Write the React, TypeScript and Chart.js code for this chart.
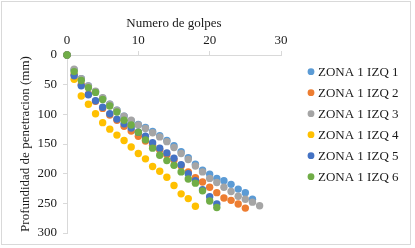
import React, { useEffect, useRef } from "react";
import { Chart, registerables } from "chart.js";

Chart.register(...registerables);

const seriesNames = ["ZONA 1 IZQ 1", "ZONA 1 IZQ 2", "ZONA 1 IZQ 3", "ZONA 1 IZQ 4", "ZONA 1 IZQ 5", "ZONA 1 IZQ 6"];
const seriesColors = ["#5B9BD5", "#ED7D31", "#A5A5A5", "#FFC000", "#4472C4", "#70AD47"];

const golpes = [0, 1, 2, 3, 4, 5, 6, 7, 8, 9, 10, 11, 12, 13, 14, 15, 16, 17, 18, 19, 20, 21, 22, 23, 24, 25, 26, 27];

const zona1 = [0, 25, 40, 52, 62, 73, 83, 93, 103, 111, 117, 122, 129, 136, 144, 153, 163, 173, 184, 194, 201, 208, 212, 218, 226, 232, 243];
const zona2 = [0, 33, 50, 66, 78, 90, 101, 110, 120, 128, 137, 145, 152, 160, 168, 177, 187, 197, 207, 214, 223, 232, 241, 245, 251, 258];
const zona3 = [0, 24, 40, 52, 61, 72, 83, 93, 103, 110, 118, 124, 131, 138, 146, 156, 166, 176, 187, 197, 208, 215, 223, 230, 238, 243, 248, 254];
const zona4 = [0, 41, 69, 83, 99, 114, 125, 135, 144, 155, 166, 175, 188, 196, 206, 220, 234, 242, 255];
const zona5 = [0, 35, 52, 67, 77, 88, 99, 108, 116, 123, 130, 137, 148, 157, 165, 174, 185, 200, 212, 227, 239, 251];
const zona6 = [0, 28, 43, 55, 63, 75, 86, 96, 110, 118, 130, 143, 157, 169, 178, 186, 197, 209, 216, 229, 246, 257];

const allSeries = [zona1, zona2, zona3, zona4, zona5, zona6];

const xTicks = [0, 10, 20, 30];
const yTicks = [0, 50, 100, 150, 200, 250, 300];

const FONT = "'Liberation Serif', 'Times New Roman', serif";
const AXIS_COLOR = "#d9d9d9";
const TEXT_COLOR = "#1a1a1a";

const borderPlugin = {
  id: "outerBorder",
  afterDraw(chart: any) {
    const ctx = chart.ctx;
    ctx.save();
    ctx.strokeStyle = AXIS_COLOR;
    ctx.lineWidth = 1;
    ctx.strokeRect(1.5, 1.5, 409, 243);
    ctx.restore();
  },
};

const legendPlugin = {
  id: "sideLegend",
  afterDraw(chart: any) {
    const ctx = chart.ctx;
    const area = chart.chartArea;
    const markerX = area.right + 30;
    const textX = markerX + 7;
    const firstY = 71.7;
    const step = 21;
    ctx.save();
    ctx.font = `13px ${FONT}`;
    ctx.textBaseline = "middle";
    ctx.textAlign = "left";
    chart.data.datasets.forEach((ds: any, i: number) => {
      const y = firstY + step * i;
      ctx.fillStyle = ds.backgroundColor;
      ctx.beginPath();
      ctx.arc(markerX, y, 3.4, 0, Math.PI * 2);
      ctx.fill();
      ctx.fillStyle = TEXT_COLOR;
      ctx.fillText(ds.label, textX, y + 0.5);
    });
    ctx.restore();
  },
};

export default function App() {
  const ref = useRef<HTMLCanvasElement | null>(null);

  useEffect(() => {
    if (!ref.current) return;
    const datasets = allSeries.map((vals, s) => ({
      label: seriesNames[s],
      data: vals.map((v, i) => ({ x: golpes[i], y: v })),
      backgroundColor: seriesColors[s],
      borderColor: seriesColors[s],
      borderWidth: 0,
      pointRadius: 3.7,
      pointHoverRadius: 3.7,
      pointStyle: "circle",
      showLine: false,
      clip: false,
      order: allSeries.length - s,
    }));

    const chart = new Chart(ref.current, {
      type: "scatter",
      data: { datasets },
      plugins: [borderPlugin, legendPlugin],
      options: {
        animation: false,
        responsive: true,
        maintainAspectRatio: false,
        layout: { padding: { left: 0, top: 0, right: 134, bottom: 15 } },
        plugins: {
          tooltip: { enabled: false },
          legend: { display: false },
        },
        scales: {
          x: {
            type: "linear",
            position: "top",
            min: 0,
            max: 30,
            afterBuildTicks: (s: any) => {
              s.ticks = xTicks.map((v) => ({ value: v }));
            },
            afterFit: (s: any) => {
              s.height = 55;
            },
            ticks: { color: TEXT_COLOR, font: { family: FONT, size: 13 }, padding: 3 },
            grid: { display: true, drawOnChartArea: false, drawTicks: true, tickLength: 4, color: AXIS_COLOR },
            border: { display: true, color: AXIS_COLOR },
            title: {
              display: true,
              text: "Numero de golpes",
              color: TEXT_COLOR,
              font: { family: FONT, size: 13 },
              padding: { top: 16, bottom: 0 },
            },
          },
          y: {
            type: "linear",
            position: "left",
            reverse: true,
            min: 0,
            max: 300,
            afterBuildTicks: (s: any) => {
              s.ticks = yTicks.map((v) => ({ value: v }));
            },
            afterFit: (s: any) => {
              s.width = 67;
            },
            ticks: { color: TEXT_COLOR, font: { family: FONT, size: 13 }, padding: 6 },
            grid: { display: true, drawOnChartArea: false, drawTicks: true, tickLength: 4, color: AXIS_COLOR },
            border: { display: true, color: AXIS_COLOR },
            title: {
              display: true,
              text: "Profundidad de penetracion (mm)",
              color: TEXT_COLOR,
              font: { family: FONT, size: 13 },
              padding: { top: 18, bottom: 0 },
            },
          },
        },
      },
    });
    return () => chart.destroy();
  }, []);

  return (
    <div style={{ width: 415, height: 248, position: "relative" }}>
      <style>{`body{margin:0;}`}</style>
      <canvas ref={ref} />
    </div>
  );
}
